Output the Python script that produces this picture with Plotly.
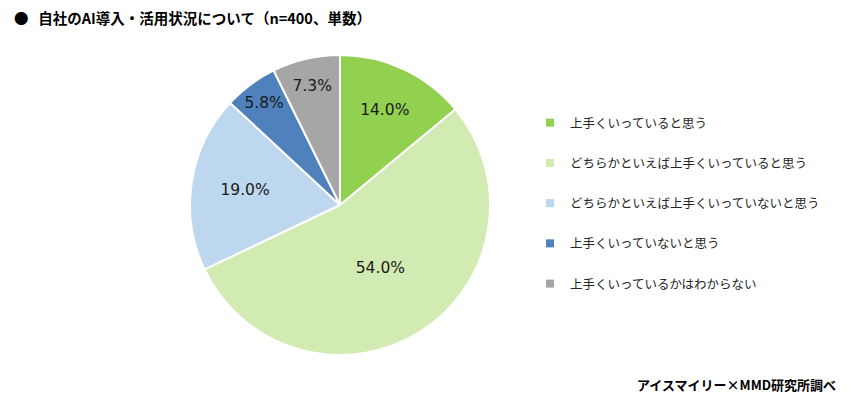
import plotly.graph_objects as go

categories = [
    "上手くいっていると思う",
    "どちらかといえば上手くいっていると思う",
    "どちらかといえば上手くいっていないと思う",
    "上手くいっていないと思う",
    "上手くいっているかはわからない",
]
values = [14.0, 54.0, 19.0, 5.8, 7.3]
colors = ["#92D050", "#D1EBB3", "#BDD7EE", "#4F81BD", "#A6A6A6"]
pct_text = [f"{v:.1f}%" for v in values]

# page is offset by the default 8px body margin
OFF = 8
W, H = 851, 401
cx, cy, r = 340 - OFF, 205 - OFF, 150

fig = go.Figure()
fig.add_trace(go.Pie(
    labels=categories,
    values=values,
    text=pct_text,
    textinfo="text",
    sort=False,
    direction="clockwise",
    rotation=0,
    marker=dict(colors=colors, line=dict(color="#FFFFFF", width=2)),
    textposition="inside",
    insidetextorientation="horizontal",
    textfont=dict(family="DejaVu Sans", size=15.5, color="#1a1a1a"),
    hoverinfo="none",
    showlegend=False,
    domain=dict(x=[(cx - r) / W, (cx + r) / W], y=[(H - cy - r) / H, (H - cy + r) / H]),
))

# legend entries, one per category
for cat, col in zip(categories, colors):
    fig.add_trace(go.Scatter(
        x=[None], y=[None], mode="markers", name=cat, legendgroup=cat,
        marker=dict(symbol="square", size=8, color=col),
        hoverinfo="none", showlegend=True,
    ))

fig.update_layout(
    width=W, height=H,
    margin=dict(l=0, r=0, t=0, b=0, autoexpand=False),
    paper_bgcolor="#FFFFFF",
    plot_bgcolor="#FFFFFF",
    xaxis=dict(visible=False),
    yaxis=dict(visible=False),
    uniformtext=dict(minsize=15.5, mode="show"),
    showlegend=True,
    legend=dict(
        x=522 / W, y=(H - 100) / H, xanchor="left", yanchor="top",
        font=dict(family="Noto Sans CJK JP", size=12.5, color="#262626"),
        itemwidth=30,
        tracegroupgap=21,
        bgcolor="rgba(0,0,0,0)",
    ),
    annotations=[
        dict(text="●&nbsp;&nbsp;&nbsp;<b>自社のAI導入・活用状況について（n=400、単数）</b>",
             x=4 / W, y=1 - 9 / H, xref="paper", yref="paper", xanchor="left", yanchor="middle",
             showarrow=False, font=dict(family="Noto Sans CJK JP", size=14.5, color="#000000")),
        dict(text="<b>アイスマイリー×MMD研究所調べ</b>",
             x=830 / W, y=1 - 376 / H, xref="paper", yref="paper", xanchor="right", yanchor="middle",
             showarrow=False, font=dict(family="Noto Sans CJK JP", size=13, color="#000000")),
    ],
)

fig.write_html("out.html")
